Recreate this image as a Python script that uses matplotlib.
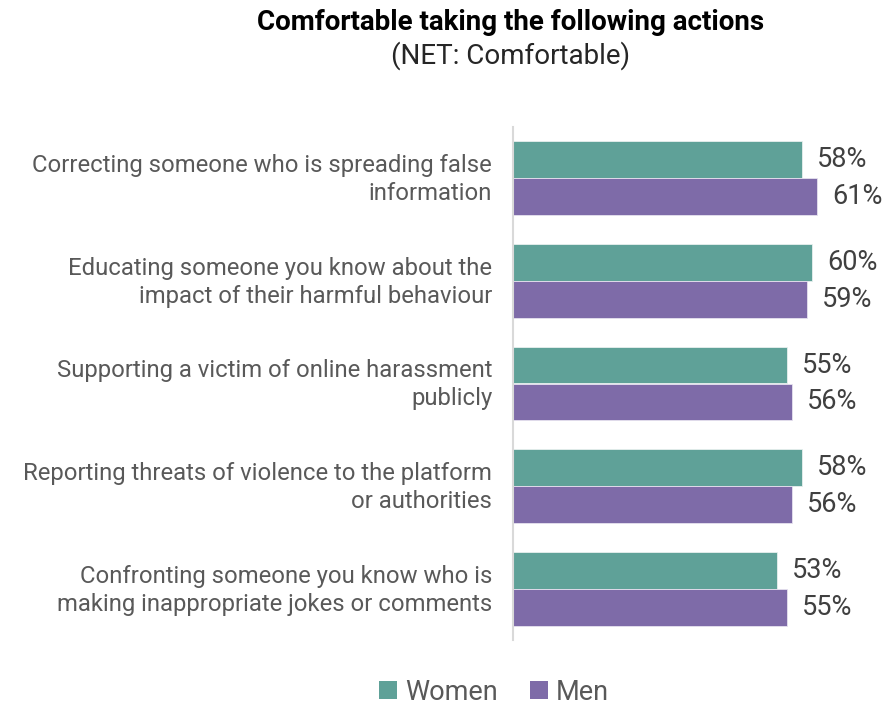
import matplotlib
matplotlib.use("Agg")
import matplotlib.pyplot as plt
import matplotlib.transforms as mtransforms
import numpy as np
from matplotlib.patches import Patch

plt.rcParams['font.family'] = ['Roboto', 'DejaVu Sans']

categories = [
    "Correcting someone who is spreading false\ninformation",
    "Educating someone you know about the\nimpact of their harmful behaviour",
    "Supporting a victim of online harassment\npublicly",
    "Reporting threats of violence to the platform\nor authorities",
    "Confronting someone you know who is\nmaking inappropriate jokes or comments",
]
women = [58, 60, 55, 58, 53]
men = [61, 59, 56, 56, 55]
series_names = ["Women", "Men"]

teal = "#5FA198"
purple = "#7E6BA8"
text_gray = "#595959"

fig = plt.figure(figsize=(8.92, 7.07), dpi=100)
ax = fig.add_axes([513 / 892, 1 - 640 / 707, 379 / 892, 513 / 707])

y = np.arange(len(categories))
h = 0.36
ax.barh(y - h / 2, women, height=h, color=teal, edgecolor="#e8f0ee", linewidth=0.6)
ax.barh(y + h / 2, men, height=h, color=purple, edgecolor="#e6e2ef", linewidth=0.6)

for yi, v in zip(y - h / 2, women):
    ax.text(v + 3.0, yi, f"{v}%", va="center", ha="left", fontsize=19.5, color="#404040")
for yi, v in zip(y + h / 2, men):
    ax.text(v + 3.0, yi, f"{v}%", va="center", ha="left", fontsize=19.5, color="#404040")

ax.set_xlim(0, 76)
ax.set_ylim(len(categories) - 0.5, -0.5)
ax.set_yticks(y)
ax.set_yticklabels(categories, fontsize=17.2, color=text_gray, linespacing=1.27)
ax.tick_params(axis="y", length=0, pad=15)
ax.set_xticks([])
# nudge the category labels slightly upward
shift = mtransforms.ScaledTranslation(0, 3.5 / 100, fig.dpi_scale_trans)
for lbl in ax.get_yticklabels():
    lbl.set_transform(lbl.get_transform() + shift)
for s in ["top", "right", "bottom"]:
    ax.spines[s].set_visible(False)
ax.spines["left"].set_color("#d9d9d9")
ax.spines["left"].set_linewidth(1.5)

fig.text(511 / 892, 1 - 22 / 707, "Comfortable taking the following actions",
         ha="center", va="center", fontsize=20, fontweight="bold", color="black")
fig.text(511 / 892, 1 - 56 / 707, "(NET: Comfortable)",
         ha="center", va="center", fontsize=20, color="#262626")

handles = [Patch(facecolor=teal, label=series_names[0]),
           Patch(facecolor=purple, label=series_names[1])]
leg = fig.legend(handles=handles, loc="center", bbox_to_anchor=(494 / 892, 1 - 692 / 707),
                 ncol=2, frameon=False, fontsize=19.5, handlelength=0.65, handleheight=0.65,
                 handletextpad=0.3, columnspacing=1.2, borderpad=0)
for t in leg.get_texts():
    t.set_color(text_gray)

fig.savefig("out.png", dpi=100)
